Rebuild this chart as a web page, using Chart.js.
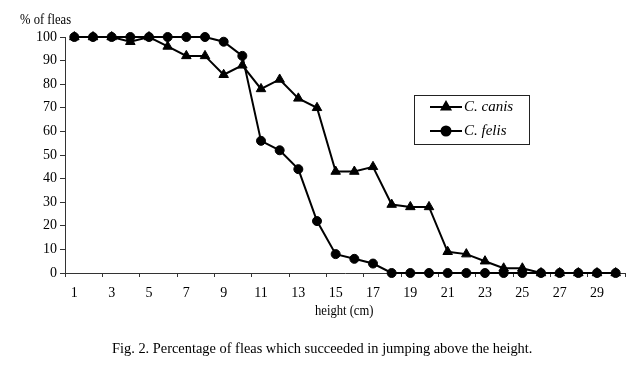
<!DOCTYPE html>
<html>
<head>
<meta charset="utf-8">
<script src="https://cdn.jsdelivr.net/npm/chart.js@4/dist/chart.umd.min.js"></script>
<style>
  html, body { margin: 0; padding: 0; background: #fff; }
  #wrap { position: relative; width: 640px; height: 373px; overflow: hidden; font-family: "Liberation Serif", "Times New Roman", serif; color: #000; }
  canvas { position: absolute; left: 0; top: 0; }
  .txt { position: absolute; white-space: nowrap; line-height: 1; }
</style>
</head>
<body>
<div id="wrap">
  <canvas id="c" width="640" height="373"></canvas>
  <div class="txt" id="ytitle" style="left:20px; top:13px; font-size:14px; transform:scaleX(0.9); transform-origin:0 0;">% of fleas</div>
  <div class="txt" id="xtitle" style="left:315px; top:304px; font-size:14px; transform:scaleX(0.9); transform-origin:0 0;">height (cm)</div>
  <div class="txt" id="caption" style="left:112px; top:341px; font-size:14.4px;">Fig. 2. Percentage of fleas which succeeded in jumping above the height.</div>
</div>
<script>
const heights = [1,2,3,4,5,6,7,8,9,10,11,12,13,14,15,16,17,18,19,20,21,22,23,24,25,26,27,28,29,30];
const canis = [100,100,100,98,100,96,92,92,84,88,78,82,74,70,43,43,45,29,28,28,9,8,5,2,2,0,0,0,0,0];
const felis = [100,100,100,100,100,100,100,100,98,92,56,52,44,22,8,6,4,0,0,0,0,0,0,0,0,0,0,0,0,0];
const seriesNames = ['C. canis', 'C. felis'];
const yTicks = [0,10,20,30,40,50,60,70,80,90,100];

const legendPlugin = {
  id: 'boxLegend',
  afterDraw(chart) {
    const ctx = chart.ctx;
    ctx.save();
    ctx.strokeStyle = '#222';
    ctx.lineWidth = 1;
    ctx.strokeRect(414.5, 95.5, 115, 49);
    const rows = [
      { y: 107, style: 'triangle', name: seriesNames[0], r: 5 },
      { y: 131, style: 'circle', name: seriesNames[1], r: 4.5 }
    ];
    rows.forEach(row => {
      ctx.strokeStyle = '#000';
      ctx.lineWidth = 2;
      ctx.beginPath();
      ctx.moveTo(430, row.y);
      ctx.lineTo(462, row.y);
      ctx.stroke();
      ctx.fillStyle = '#000';
      Chart.helpers.drawPoint(ctx, { pointStyle: row.style, radius: row.r, borderWidth: 1, rotation: 0 }, 446, row.y);
      ctx.fillStyle = '#000';
      ctx.font = 'italic 15px "Liberation Serif", serif';
      ctx.textAlign = 'left';
      ctx.textBaseline = 'middle';
      ctx.fillText(row.name, 464, row.y);
    });
    ctx.restore();
  }
};

new Chart(document.getElementById('c'), {
  type: 'line',
  data: {
    labels: heights,
    datasets: [
      {
        label: seriesNames[0], data: canis, order: 2,
        borderColor: '#000', backgroundColor: '#000', borderWidth: 2,
        pointStyle: 'triangle', pointRadius: 5.5, pointBorderWidth: 1,
        pointBackgroundColor: '#000', pointBorderColor: '#000',
        tension: 0, clip: false
      },
      {
        label: seriesNames[1], data: felis, order: 1,
        borderColor: '#000', backgroundColor: '#000', borderWidth: 2,
        pointStyle: 'circle', pointRadius: 4.5, pointBorderWidth: 1,
        pointBackgroundColor: '#000', pointBorderColor: '#000',
        tension: 0, clip: false
      }
    ]
  },
  options: {
    responsive: false,
    animation: false,
    devicePixelRatio: 1,
    layout: { padding: { left: 0, right: 15, top: 37, bottom: 70 } },
    plugins: { legend: { display: false }, tooltip: { enabled: false }, title: { display: false } },
    scales: {
      x: {
        type: 'category',
        offset: true,
        afterFit: s => { s.height = 30; },
        border: { display: true, color: '#333', width: 1 },
        grid: {
          offset: true,
          drawOnChartArea: false,
          drawTicks: true,
          tickLength: 4,
          lineWidth: 1,
          color: c => (c.type !== 'tick' || c.index % 2 === 0) ? '#333' : 'rgba(0,0,0,0)'
        },
        ticks: {
          autoSkip: false,
          maxRotation: 0,
          padding: 8,
          color: '#000',
          font: { family: '"Liberation Serif", serif', size: 14 },
          callback: function(v, i) { return i % 2 === 0 ? String(heights[i]) : ''; }
        }
      },
      y: {
        min: 0, max: 100,
        afterFit: s => { s.width = 65; },
        afterBuildTicks: s => { s.ticks = yTicks.map(v => ({ value: v })); },
        border: { display: true, color: '#333', width: 1 },
        grid: { drawOnChartArea: false, drawTicks: true, tickLength: 5, color: '#333' },
        ticks: {
          stepSize: 10,
          padding: 3,
          color: '#000',
          font: { family: '"Liberation Serif", serif', size: 14 }
        }
      }
    }
  },
  plugins: [legendPlugin]
});
</script>
</body>
</html>
